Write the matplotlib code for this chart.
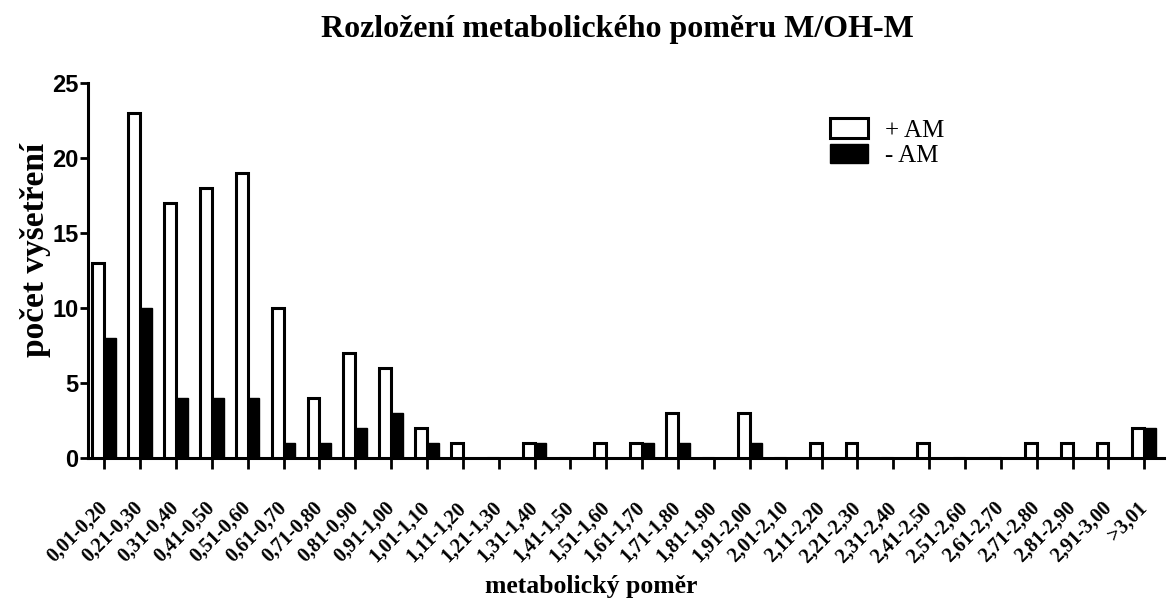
import matplotlib.pyplot as plt
import numpy as np

# kategorie metabolického poměru
kategorie = ['0,01-0,20', '0,21-0,30', '0,31-0,40', '0,41-0,50', '0,51-0,60',
             '0,61-0,70', '0,71-0,80', '0,81-0,90', '0,91-1,00', '1,01-1,10',
             '1,11-1,20', '1,21-1,30', '1,31-1,40', '1,41-1,50', '1,51-1,60',
             '1,61-1,70', '1,71-1,80', '1,81-1,90', '1,91-2,00', '2,01-2,10',
             '2,11-2,20', '2,21-2,30', '2,31-2,40', '2,41-2,50', '2,51-2,60',
             '2,61-2,70', '2,71-2,80', '2,81-2,90', '2,91-3,00', '>3,01']
plus_am = [13, 23, 17, 18, 19, 10, 4, 7, 6, 2, 1, 0, 1, 0, 1,
           1, 3, 0, 3, 0, 1, 1, 0, 1, 0, 0, 1, 1, 1, 2]
minus_am = [8, 10, 4, 4, 4, 1, 1, 2, 3, 1, 0, 0, 1, 0, 0,
            1, 1, 0, 1, 0, 0, 0, 0, 0, 0, 0, 0, 0, 0, 2]

serif = ['Liberation Serif', 'DejaVu Serif']
narrow = ['Liberation Sans Narrow', 'Liberation Sans', 'DejaVu Sans']

fig = plt.figure(figsize=(11.74, 6), dpi=100)
ax = fig.add_axes([0.075, 0.237, 0.9165, 0.625])

x = np.arange(len(kategorie))
w = 0.33
ax.bar(x - w / 2, plus_am, w, color='white', edgecolor='black', linewidth=2.2,
       label='+ AM', zorder=3)
ax.bar(x + w / 2, minus_am, w, color='black', edgecolor='black', linewidth=1,
       label='- AM', zorder=3)

ax.set_xlim(-0.45, len(kategorie) - 0.45)
ax.set_ylim(0, 25)
ax.set_yticks([0, 5, 10, 15, 20, 25])
ax.set_xticks(x)
ax.set_xticklabels(kategorie, rotation=45, ha='right', va='center',
                   rotation_mode='anchor', family=serif, fontweight='bold',
                   fontsize=14.5)
for lab in ax.get_yticklabels():
    lab.set_family(narrow)
    lab.set_fontweight('bold')
    lab.set_fontsize(17)

for s in ['top', 'right']:
    ax.spines[s].set_visible(False)
for s in ['left', 'bottom']:
    ax.spines[s].set_linewidth(2.2)
# popisky osy x jsou v originále odsazené níž
ax.tick_params(axis='x', length=8, width=2, pad=26)
ax.tick_params(axis='y', length=6, width=2, pad=1)

ax.set_ylabel('počet vyšetření', family=serif, fontweight='bold', fontsize=24,
              labelpad=1, y=0.555)
ax.set_xlabel('metabolický poměr', family=serif, fontweight='bold', fontsize=18.5,
              labelpad=6, x=0.468)
fig.suptitle('Rozložení metabolického poměru M/OH-M', family=serif,
             fontweight='bold', fontsize=23, x=0.526, y=0.975)

leg = ax.legend(loc='upper left', bbox_to_anchor=(0.669, 0.965), frameon=False,
                prop={'family': serif, 'size': 18}, handlelength=1.5,
                handleheight=0.8, handletextpad=0.7, labelspacing=0.1)

plt.savefig('out.png', dpi=100)
